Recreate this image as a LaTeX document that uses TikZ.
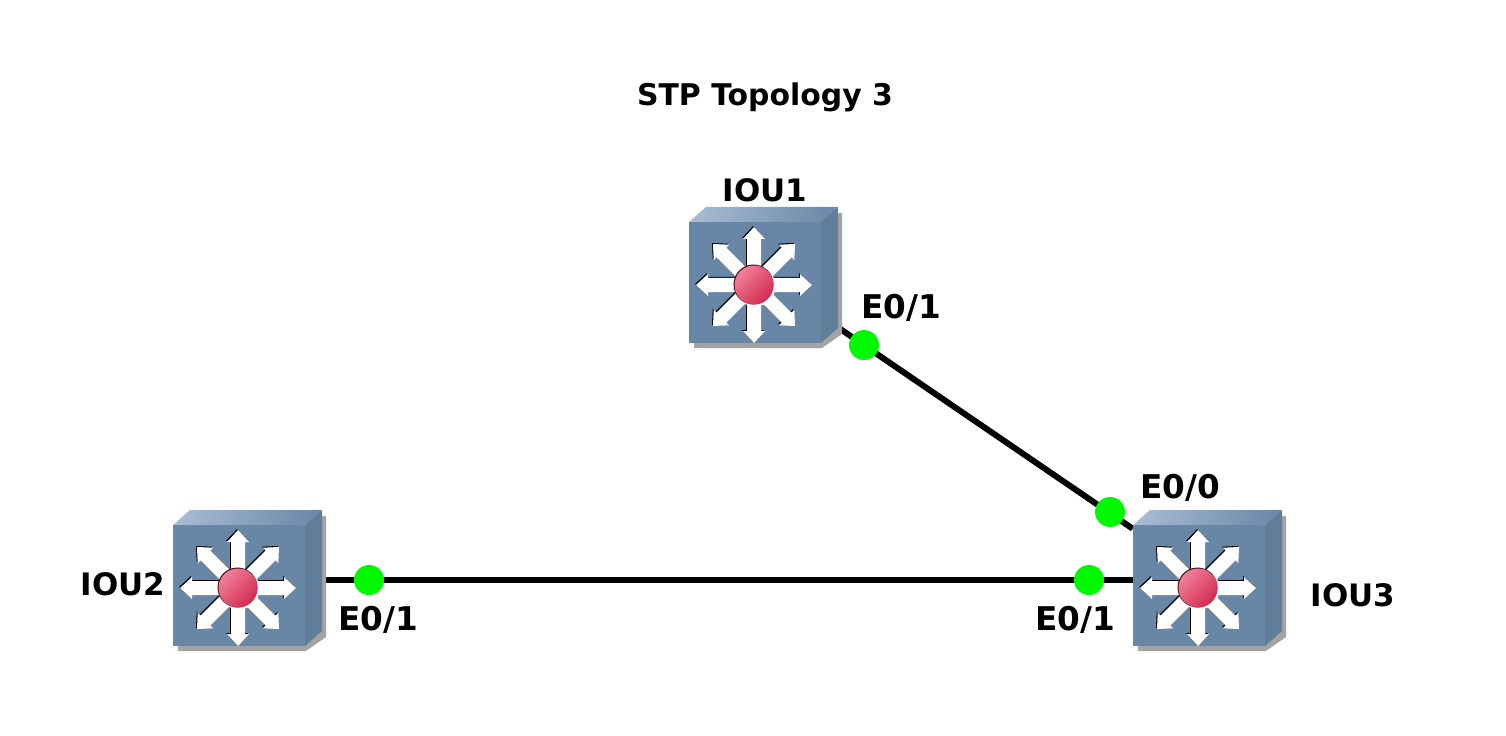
\documentclass[tikz,border=0pt]{standalone}
\usepackage{fontspec}
\setmainfont{DejaVu Sans}
\usetikzlibrary{backgrounds}
\definecolor{frontblue}{HTML}{6886A6}
\definecolor{sideblue}{HTML}{607D99}
\definecolor{topblue}{HTML}{A9BDD3}
\definecolor{shadowgray}{HTML}{A3A3A3}
\definecolor{portgreen}{HTML}{00F900}
\definecolor{balllight}{HTML}{F0809A}
\definecolor{balldark}{HTML}{D42A50}
\tikzset{
	switchbox/.style={minimum width=3cm, minimum height=2.8cm, inner sep=0pt},
	portdot/.style={circle, fill=portgreen, minimum size=0.6cm, inner sep=0pt},
	link/.style={line width=0.12cm},
	caption/.style={font=\bfseries\fontsize{17.6}{20}\selectfont, text=black, inner sep=0pt},
	titletext/.style={caption, font=\bfseries\fontsize{17}{20}\selectfont},
	porttext/.style={caption, font=\bfseries\fontsize{18.6}{20}\selectfont},
	switchicon/.pic={
		\fill[shadowgray] (-70,-50) -- (78,-64) -- (78,57) -- (58,71) -- (-70,71) -- cycle;
		\fill[sideblue] (57,-55) -- (74,-70) -- (74,51) -- (57,66) -- cycle;
		\shade[left color=topblue, right color=frontblue] (-75,-55) -- (-58,-70) -- (74,-70) -- (57,-55) -- cycle;
		\fill[frontblue] (-75,-55) rectangle (57,66);
		\foreach \a in {0,45,...,315} {
			\fill[black, shift={(-11,7)}, rotate=\a] (0,-7) -- (46,-7) -- (46,-11) -- (58,0) -- (46,11) -- (46,7) -- (0,7) -- cycle;
			\fill[white, shift={(-10,8)}, rotate=\a] (0,-7) -- (46,-7) -- (46,-11) -- (58,0) -- (46,11) -- (46,7) -- (0,7) -- cycle;
		}
		\fill[white] (-9,9) circle (20.5);
		\fill[black!70!balldark] (-10.5,7.5) circle (20);
		\shade[top color=balllight, bottom color=balldark, shading angle=45] (-10,8) circle (19.5);
	}
}
\begin{document}
\begin{tikzpicture}[x=0.02cm, y=-0.02cm]
	\useasboundingbox (0,0) rectangle (1506,736);
	
	\node[titletext] (title) at (765,97) {STP Topology 3};
	
	\node[switchbox] (iou1) at (764,277) {};
	\node[switchbox] (iou2) at (248,580) {};
	\node[switchbox] (iou3) at (1208,580) {};
	
	\begin{scope}[on background layer]
		\draw[link] (iou1) -- (iou3);
		\draw[link] (iou2) -- (iou3);
	\end{scope}
	
	\pic at (iou1) {switchicon};
	\pic at (iou2) {switchicon};
	\pic at (iou3) {switchicon};
	
	\node[caption] (name1) at (765,190) {IOU1};
	\node[caption] (name2) at (123,584) {IOU2};
	\node[caption] (name3) at (1353,595) {IOU3};
	
	\node[portdot] (port1) at (864,345) {};
	\node[portdot] (port2) at (369,580) {};
	\node[portdot] (port3a) at (1110,512) {};
	\node[portdot] (port3b) at (1089,580) {};
	
	\node[porttext] (label1) at (901,308) {E0/1};
	\node[porttext] (label2) at (378,620) {E0/1};
	\node[porttext] (label3a) at (1180,488) {E0/0};
	\node[porttext] (label3b) at (1075,620) {E0/1};
\end{tikzpicture}
\end{document}
